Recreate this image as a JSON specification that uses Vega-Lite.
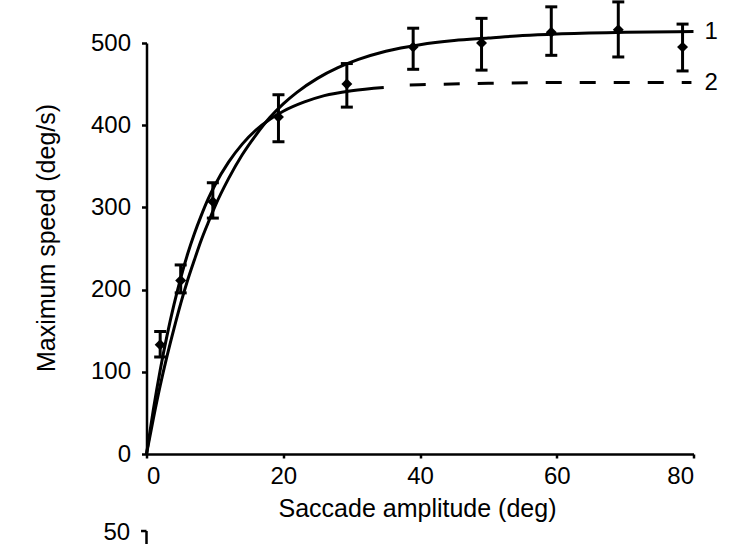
{
  "$schema": "https://vega.github.io/schema/vega-lite/v6.json",
  "width": 547,
  "height": 411,
  "autosize": {"type": "none"},
  "padding": {"left": 146.5, "top": 43, "right": 62.5, "bottom": 90},
  "background": "white",
  "config": {
    "view": {"stroke": null},
    "font": "Liberation Sans",
    "axis": {
      "grid": false,
      "domainColor": "black",
      "domainWidth": 2.5,
      "tickColor": "black",
      "tickWidth": 2.5,
      "labelColor": "black",
      "labelFont": "Liberation Sans",
      "labelFontSize": 24,
      "titleColor": "black",
      "titleFont": "Liberation Sans",
      "titleFontSize": 25,
      "titleFontWeight": "normal"
    }
  },
  "datasets": {
    "pts": [
      {"x": 2, "y": 133, "lo": 118, "hi": 149},
      {"x": 5, "y": 211, "lo": 196, "hi": 230},
      {"x": 9.7, "y": 307, "lo": 287, "hi": 330},
      {"x": 19.3, "y": 410, "lo": 380, "hi": 437},
      {"x": 29.3, "y": 450, "lo": 422, "hi": 475},
      {"x": 39, "y": 495, "lo": 468, "hi": 518},
      {"x": 49, "y": 500, "lo": 467, "hi": 530},
      {"x": 59.2, "y": 513, "lo": 485, "hi": 544},
      {"x": 69, "y": 516, "lo": 483, "hi": 550},
      {"x": 78.4, "y": 495, "lo": 466, "hi": 523}
    ],
    "curve1": [
      {"x": 0, "y": 0}, {"x": 1, "y": 43}, {"x": 2, "y": 83}, {"x": 3, "y": 119},
      {"x": 4, "y": 152}, {"x": 5, "y": 183}, {"x": 6, "y": 211}, {"x": 7, "y": 236},
      {"x": 8, "y": 260}, {"x": 9, "y": 281}, {"x": 10, "y": 301}, {"x": 12, "y": 335},
      {"x": 14, "y": 364}, {"x": 16, "y": 388}, {"x": 18, "y": 409}, {"x": 20, "y": 426},
      {"x": 22, "y": 440}, {"x": 25, "y": 457}, {"x": 28, "y": 470}, {"x": 31, "y": 480},
      {"x": 35, "y": 490}, {"x": 40, "y": 498}, {"x": 45, "y": 503}, {"x": 50, "y": 506},
      {"x": 55, "y": 509}, {"x": 60, "y": 511}, {"x": 70, "y": 513}, {"x": 80, "y": 514}
    ],
    "curve2": [
      {"x": 0, "y": 0}, {"x": 1, "y": 54}, {"x": 2, "y": 102}, {"x": 3, "y": 144},
      {"x": 4, "y": 181}, {"x": 5, "y": 214}, {"x": 6, "y": 243}, {"x": 7, "y": 268},
      {"x": 8, "y": 290}, {"x": 9, "y": 310}, {"x": 10, "y": 327}, {"x": 12, "y": 355},
      {"x": 14, "y": 377}, {"x": 16, "y": 394}, {"x": 18, "y": 407}, {"x": 20, "y": 417},
      {"x": 23, "y": 428}, {"x": 26, "y": 436}, {"x": 30, "y": 442}, {"x": 34.7, "y": 446}
    ],
    "curve2dash": [
      {"x": 38.5, "y": 449}, {"x": 50, "y": 451}, {"x": 65, "y": 452}, {"x": 79.7, "y": 452}
    ],
    "labels": [
      {"x": 81.6, "y": 513, "t": "1"},
      {"x": 81.6, "y": 451, "t": "2"}
    ],
    "next": [
      {"x": -2.4, "y": -96, "t": "50"}
    ],
    "bracket": [
      {"x": -0.8, "x2": 0, "y": -93.7, "y2": -93.7},
      {"x": 0, "x2": 0, "y": -93.7, "y2": -130}
    ]
  },
  "layer": [
    {
      "data": {"name": "curve1"},
      "mark": {"type": "line", "color": "black", "strokeWidth": 3, "interpolate": "monotone"},
      "encoding": {
        "x": {"field": "x", "type": "quantitative", "scale": {"domain": [0, 80], "nice": false},
          "axis": {"values": [0, 20, 40, 60, 80], "tickSize": 4, "labelPadding": 6, "title": "Saccade amplitude (deg)",
            "titleX": 270.5, "titleY": 62, "titleBaseline": "alphabetic", "titleAlign": "center"}},
        "y": {"field": "y", "type": "quantitative", "scale": {"domain": [0, 500], "nice": false},
          "axis": {"values": [0, 100, 200, 300, 400, 500], "tickSize": 5, "labelPadding": 11, "title": "Maximum speed (deg/s)",
            "titleX": -92, "titleY": 194.5, "titleAngle": 270, "titleBaseline": "alphabetic", "titleAlign": "center"}}
      }
    },
    {
      "data": {"name": "curve2"},
      "mark": {"type": "line", "color": "black", "strokeWidth": 3, "interpolate": "monotone"},
      "encoding": {
        "x": {"field": "x", "type": "quantitative"},
        "y": {"field": "y", "type": "quantitative"}
      }
    },
    {
      "data": {"name": "curve2dash"},
      "mark": {"type": "line", "color": "black", "strokeWidth": 3, "strokeDash": [16, 18], "interpolate": "monotone"},
      "encoding": {
        "x": {"field": "x", "type": "quantitative"},
        "y": {"field": "y", "type": "quantitative"}
      }
    },
    {
      "data": {"name": "pts"},
      "mark": {"type": "rule", "color": "black", "strokeWidth": 3, "opacity": 1},
      "encoding": {
        "x": {"field": "x", "type": "quantitative"},
        "y": {"field": "lo", "type": "quantitative"},
        "y2": {"field": "hi"}
      }
    },
    {
      "data": {"name": "pts"},
      "mark": {"type": "tick", "color": "black", "orient": "horizontal", "size": 12, "thickness": 3, "opacity": 1},
      "encoding": {
        "x": {"field": "x", "type": "quantitative"},
        "y": {"field": "lo", "type": "quantitative"}
      }
    },
    {
      "data": {"name": "pts"},
      "mark": {"type": "tick", "color": "black", "orient": "horizontal", "size": 12, "thickness": 3, "opacity": 1},
      "encoding": {
        "x": {"field": "x", "type": "quantitative"},
        "y": {"field": "hi", "type": "quantitative"}
      }
    },
    {
      "data": {"name": "pts"},
      "mark": {"type": "point", "shape": "diamond", "filled": true, "color": "black", "size": 120, "opacity": 1},
      "encoding": {
        "x": {"field": "x", "type": "quantitative"},
        "y": {"field": "y", "type": "quantitative"}
      }
    },
    {
      "data": {"name": "labels"},
      "mark": {"type": "text", "align": "left", "baseline": "middle", "fontSize": 24, "color": "black", "font": "Liberation Sans"},
      "encoding": {
        "x": {"field": "x", "type": "quantitative"},
        "y": {"field": "y", "type": "quantitative"},
        "text": {"field": "t"}
      }
    },
    {
      "data": {"name": "next"},
      "mark": {"type": "text", "align": "right", "baseline": "middle", "fontSize": 24, "color": "black", "font": "Liberation Sans"},
      "encoding": {
        "x": {"field": "x", "type": "quantitative"},
        "y": {"field": "y", "type": "quantitative"},
        "text": {"field": "t"}
      }
    },
    {
      "data": {"name": "bracket"},
      "mark": {"type": "rule", "color": "black", "strokeWidth": 2.5},
      "encoding": {
        "x": {"field": "x", "type": "quantitative"},
        "x2": {"field": "x2"},
        "y": {"field": "y", "type": "quantitative"},
        "y2": {"field": "y2"}
      }
    }
  ]
}
